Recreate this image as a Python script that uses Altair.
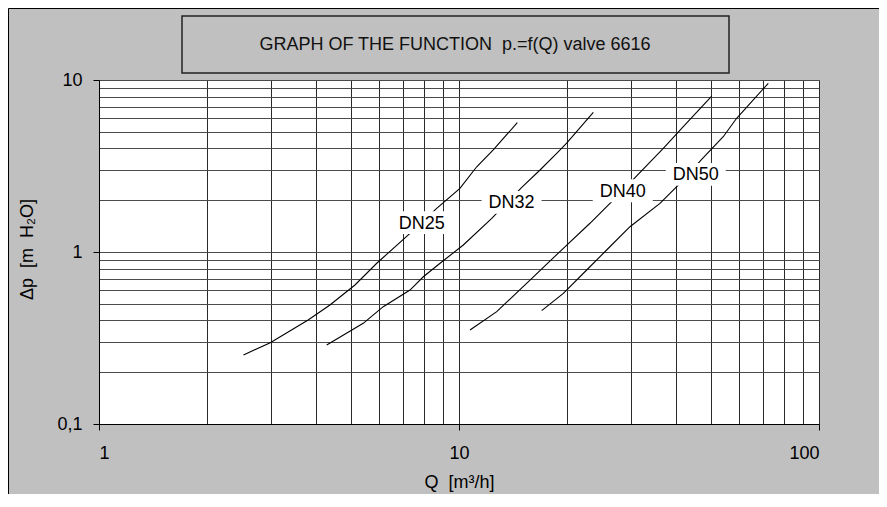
import altair as alt
import pandas as pd

# ---- data ----
dn25_q = [2.52, 2.99, 3.81, 4.38, 5.14, 5.91, 7.31, 8.67, 10.06, 11.2, 12.45, 14.52]
dn25_dp = [0.252, 0.297, 0.402, 0.492, 0.643, 0.860, 1.284, 1.795, 2.346, 3.13, 3.92, 5.65]

dn32_q = [4.29, 5.42, 6.16, 7.31, 7.96, 8.86, 10.28, 12.33, 14.94, 16.79, 18.68, 19.91, 23.61]
dn32_dp = [0.288, 0.385, 0.481, 0.601, 0.718, 0.860, 1.098, 1.570, 2.378, 2.998, 3.75, 4.29, 6.49]

dn40_q = [10.73, 12.73, 15.75, 19.49, 23.11, 27.12, 31.16, 36.94, 41.98, 50.35]
dn40_dp = [0.352, 0.450, 0.687, 1.051, 1.469, 2.052, 2.767, 4.01, 5.35, 8.07]

dn50_q = [16.97, 19.49, 22.63, 25.71, 29.85, 36.16, 41.11, 47.22, 54.2, 59.05, 65.03, 72.3]
dn50_dp = [0.456, 0.575, 0.786, 1.027, 1.403, 1.919, 2.508, 3.46, 4.68, 5.99, 7.48, 9.57]

label_names = ["DN25", "DN32", "DN40", "DN50"]
label_q = [7.88, 14.0, 28.5, 45.45]
label_dp = [1.48, 1.945, 2.27, 2.83]

x_grid_values = [1, 2, 3, 4, 5, 6, 7, 8, 9, 10, 20, 30, 40, 50, 60, 70, 80, 90, 100]
y_grid_values = [0.1, 0.2, 0.3, 0.4, 0.5, 0.6, 0.7, 0.8, 0.9, 1, 2, 3, 4, 5, 6, 7, 8, 9, 10]

title_text = "GRAPH OF THE FUNCTION \u00a0p.=f(Q) valve 6616"
x_title = "Q \u00a0[m\u00b3/h]"
y_title = "\u0394p \u00a0[m \u00a0H\u2082O]"

FONT = "Liberation Sans, Arial, sans-serif"

rows = []
for name, qs, dps in [("DN25", dn25_q, dn25_dp), ("DN32", dn32_q, dn32_dp),
                      ("DN40", dn40_q, dn40_dp), ("DN50", dn50_q, dn50_dp)]:
    for i, (q, d) in enumerate(zip(qs, dps)):
        rows.append({"series": name, "Q": q, "dp": d, "order": i})
curves = pd.DataFrame(rows)
labels = pd.DataFrame({"name": label_names, "Q": label_q, "dp": label_dp})
one = pd.DataFrame({"a": [0]})

x_scale = alt.Scale(type="log", domain=[1, 100], nice=False)
y_scale = alt.Scale(type="log", domain=[0.1, 10], nice=False)

x_axis = alt.Axis(
    values=x_grid_values,
    title=x_title,
    labelExpr="(datum.value == 1 || datum.value == 10 || datum.value == 100) ? datum.label : ''",
    labelOverlap=False,
    labelPadding=14,
    tickSize=6,
    tickColor={"condition": {"test": "datum.value == 1 || datum.value == 10 || datum.value == 100",
                             "value": "black"}, "value": "transparent"},
    titleX=360, titleY=58, titleBaseline="middle", titleAlign="center",
    gridColor="#2a2a2a",
)
y_axis = alt.Axis(
    values=y_grid_values,
    title=y_title,
    labelExpr="datum.value == 0.1 ? '0,1' : ((datum.value == 1 || datum.value == 10) ? datum.label : '')",
    labelOverlap=False,
    labelPadding=11,
    tickSize=6,
    tickColor={"condition": {"test": "datum.value == 0.1 || datum.value == 1 || datum.value == 10",
                             "value": "black"}, "value": "transparent"},
    titleX=-72, titleY=169, titleBaseline="middle", titleAlign="center", titleAngle=-90,
    gridColor="#4a4a4a",
)

lines = alt.Chart(curves).mark_line(color="black", strokeWidth=1.1).encode(
    x=alt.X("Q:Q", scale=x_scale, axis=x_axis),
    y=alt.Y("dp:Q", scale=y_scale, axis=y_axis),
    detail="series:N",
    order="order:Q",
)

boxes = alt.Chart(labels).mark_point(
    shape="M-1,-0.38L1,-0.38L1,0.38L-1,0.38Z", size=3600, filled=True,
    fill="white", opacity=1, strokeWidth=0,
).encode(
    x=alt.X("Q:Q", scale=x_scale),
    y=alt.Y("dp:Q", scale=y_scale),
)

texts = alt.Chart(labels).mark_text(
    font=FONT, fontSize=18, color="black", baseline="middle", align="center", dy=1,
).encode(
    x=alt.X("Q:Q", scale=x_scale),
    y=alt.Y("dp:Q", scale=y_scale),
    text="name:N",
)

frame = alt.Chart(one).mark_rect(fillOpacity=0, stroke="black", strokeWidth=1).encode(
    x=alt.value(-90.5), x2=alt.value(900), y=alt.value(-71.5), y2=alt.value(600),
)

title_box = alt.Chart(one).mark_rect(fill="#c0c0c0", stroke="#222222", strokeWidth=1.5).encode(
    x=alt.value(83), x2=alt.value(630), y=alt.value(-64), y2=alt.value(-7),
)

title_mark = alt.Chart(one).mark_text(
    font=FONT, fontSize=18, color="#111111", align="center", baseline="middle",
).encode(
    x=alt.value(356), y=alt.value(-35), text=alt.value(title_text),
)

chart = alt.layer(frame, title_box, title_mark, lines, boxes, texts).properties(
    width=720, height=344,
    autosize=alt.AutoSizeParams(type="none"),
    padding={"left": 91, "top": 72, "right": 60, "bottom": 70},
    background="#c0c0c0",
).configure_view(
    fill="white", stroke="#808080", strokeWidth=1,
).configure_axis(
    labelFont=FONT, labelFontSize=18, labelColor="black",
    titleFont=FONT, titleFontSize=18, titleColor="black", titleFontWeight="normal",
    domainColor="black", domainWidth=1, grid=True, gridWidth=1, gridOpacity=1,
)

chart.save("out.html", embed_options={"renderer": "svg", "actions": False})
